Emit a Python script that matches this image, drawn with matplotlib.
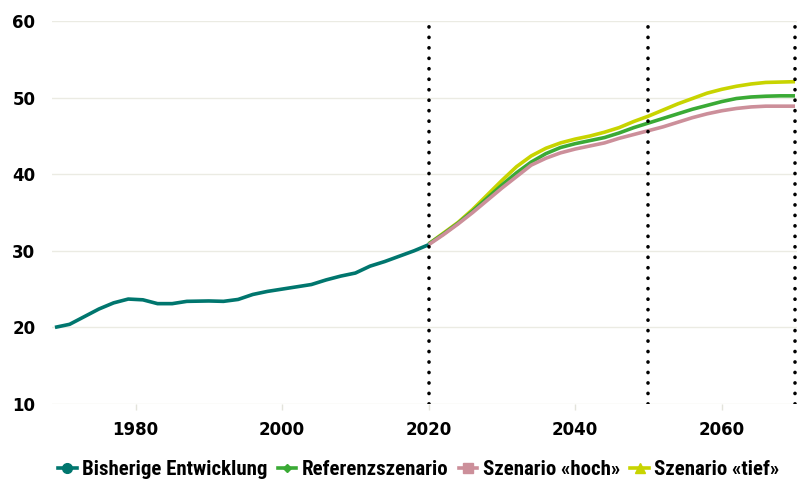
import numpy as np
import matplotlib.pyplot as plt
from matplotlib.lines import Line2D
from matplotlib import font_manager

# historische Entwicklung
hist_years = [1969, 1971, 1972, 1974, 1975, 1977, 1979, 1981, 1983, 1985, 1987, 1990,
              1992, 1994, 1996, 1998, 2000, 2002, 2004, 2006, 2008, 2010, 2012, 2014,
              2016, 2018, 2020]
hist_vals = [20.0, 20.4, 20.9, 21.9, 22.4, 23.2, 23.7, 23.6, 23.1, 23.1, 23.4, 23.45,
             23.4, 23.65, 24.3, 24.7, 25.0, 25.3, 25.6, 26.2, 26.7, 27.1, 28.0, 28.6,
             29.3, 30.0, 30.8]

# Szenarien
scen_years = [2020, 2022, 2024, 2026, 2028, 2030, 2032, 2034, 2036, 2038, 2040, 2042,
              2044, 2046, 2048, 2050, 2052, 2054, 2056, 2058, 2060, 2062, 2064, 2066,
              2068, 2070]
hoch_vals = [30.8, 32.1, 33.5, 35.0, 36.6, 38.2, 39.7, 41.2, 42.1, 42.8, 43.3, 43.7,
             44.1, 44.7, 45.2, 45.7, 46.2, 46.8, 47.4, 47.9, 48.3, 48.6, 48.8, 48.9,
             48.9, 48.9]
ref_vals = [30.9, 32.2, 33.6, 35.2, 36.9, 38.6, 40.2, 41.6, 42.7, 43.5, 44.0, 44.4,
            44.8, 45.4, 46.1, 46.7, 47.3, 47.9, 48.5, 49.0, 49.5, 49.9, 50.1, 50.2,
            50.25, 50.25]
tief_vals = [30.9, 32.3, 33.7, 35.4, 37.3, 39.2, 41.0, 42.4, 43.4, 44.1, 44.6, 45.0,
             45.5, 46.1, 46.9, 47.6, 48.4, 49.2, 49.9, 50.6, 51.1, 51.5, 51.8, 52.0,
             52.05, 52.1]

vlines = [2020, 2050, 2070]
labels = ['Bisherige Entwicklung', 'Referenzszenario', 'Szenario «hoch»', 'Szenario «tief»']

c_hist = '#00766e'
c_ref = '#3aaa35'
c_hoch = '#cc8f9a'
c_tief = '#c8d400'

names = {f.name for f in font_manager.fontManager.ttflist}
leg_fam = [n for n in ['DejaVu Sans Condensed', 'Liberation Sans Narrow', 'Roboto Condensed']
           if n in names] + ['Roboto', 'DejaVu Sans']

fig = plt.figure(figsize=(8.03, 4.82), dpi=100)
ax = fig.add_axes([0.0648, 0.162, 0.928, 0.794])

lw = 2.6
ax.plot(scen_years, tief_vals, color=c_tief, lw=lw, solid_capstyle='butt',
        solid_joinstyle='round', zorder=3)
ax.plot(scen_years, ref_vals, color=c_ref, lw=lw, solid_capstyle='butt',
        solid_joinstyle='round', zorder=4)
ax.plot(scen_years, hoch_vals, color=c_hoch, lw=lw, solid_capstyle='butt',
        solid_joinstyle='round', zorder=5)
ax.plot(hist_years, hist_vals, color=c_hist, lw=lw, solid_capstyle='butt',
        solid_joinstyle='round', zorder=6)

for x in vlines:
    ax.axvline(x, color='black', lw=2.6, linestyle=(0, (0.05, 2.85)),
               dash_capstyle='round', zorder=7)

ax.set_xlim(1968.6, 2070.3)
ax.set_ylim(10, 60)
ax.set_yticks(range(10, 61, 10))
ax.set_xticks(range(1980, 2061, 20))
ax.grid(axis='y', color='#ebebe3', lw=1)
ax.set_axisbelow(True)
for s in ax.spines.values():
    s.set_visible(False)
ax.tick_params(axis='y', length=0, pad=12, labelsize=12)
ax.tick_params(axis='x', length=4, color='#e3e3db', width=1, pad=8, labelsize=12)
for t in ax.get_xticklabels() + ax.get_yticklabels():
    t.set_fontweight('bold')

handles = [
    Line2D([], [], color=c_hist, lw=lw, marker='o', markersize=7),
    Line2D([], [], color=c_ref, lw=lw, marker='D', markersize=4),
    Line2D([], [], color=c_hoch, lw=lw, marker='s', markersize=7),
    Line2D([], [], color=c_tief, lw=lw, marker='^', markersize=7),
]
ax.legend(handles, labels, loc='center', bbox_to_anchor=(0.492, -0.172), ncol=4,
          frameon=False, handlelength=0.9, handletextpad=0.25, columnspacing=0.5,
          prop={'family': leg_fam, 'weight': 'bold', 'size': 15, 'stretch': 'condensed'})

fig.savefig('out.png', dpi=100)
